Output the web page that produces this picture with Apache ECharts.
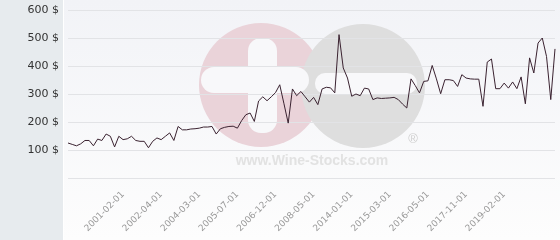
<!DOCTYPE html>
<html>
<head>
<meta charset="utf-8">
<script src="https://cdn.jsdelivr.net/npm/echarts@6/dist/echarts.min.js"></script>
<style>
html,body{margin:0;padding:0;background:#fff;}
#chart{width:560px;height:240px;}
</style>
</head>
<body>
<div id="chart"></div>
<script>
const prices = [
  125, 120, 115, 122, 134, 134, 115, 139, 134, 157,
  149, 111, 149, 137, 140, 149, 134, 131, 131, 108,
  131, 143, 137, 149, 161, 134, 184, 172, 172, 175,
  176, 178, 182, 182, 184, 157, 176, 181, 184, 185,
  178, 205, 226, 232, 202, 275, 290, 276, 290, 305,
  333, 265, 196, 318, 294, 309, 290, 271, 288, 262,
  318, 324, 322, 304, 512, 393, 357, 292, 300, 294,
  321, 318, 280, 286, 284, 285, 286, 288, 280, 264,
  250, 354, 330, 304, 345, 347, 402, 354, 301, 351,
  351, 348, 327, 369, 357, 354, 353, 353, 256, 414,
  425, 319, 319, 339, 321, 343, 319, 361, 265, 429,
  375, 482, 500, 434, 280, 461
];
// Tick labels shown on the category axis and the observation they sit on
const tickLabels = ['2001-02-01','2002-04-01','2004-03-01','2005-07-01','2006-12-01','2008-05-01','2014-01-01','2015-03-01','2016-05-01','2017-11-01','2019-02-01'];
const tickIndex  = [13, 22, 31, 40, 49, 58, 67, 76, 85, 94, 103];
const yTicks = [0, 100, 200, 300, 400, 500, 600];

const labelAt = {};
tickIndex.forEach((idx, k) => { labelAt[idx] = tickLabels[k]; });
const categories = prices.map((_, i) => labelAt[i] || ('#' + i));

const chart = echarts.init(document.getElementById('chart'), null, {renderer: 'canvas'});
chart.setOption({
  animation: false,
  backgroundColor: new echarts.graphic.LinearGradient(0, 0, 0, 1, [
    {offset: 0, color: '#f2f3f7'}, {offset: 1, color: '#fdfdfd'}
  ]),
  graphic: [
    {type: 'rect', z: -20, shape: {x: 0, y: 0, width: 63, height: 240}, style: {fill: '#e7ebee'}},
    {type: 'rect', z: -20, shape: {x: 63, y: 0, width: 1, height: 240}, style: {fill: '#ffffff'}},
    {type: 'circle', z: -10, shape: {cx: 261, cy: 85, r: 62}, style: {fill: '#ead3d9'}},
    {type: 'circle', z: -9, shape: {cx: 363, cy: 86, r: 62}, style: {fill: '#dedede'}},
    {type: 'rect', z: -8, shape: {x: 201, y: 67, width: 108, height: 26, r: 13}, style: {fill: '#f8f8fa'}},
    {type: 'rect', z: -8, shape: {x: 248, y: 38, width: 29, height: 95, r: 13}, style: {fill: '#f8f8fa'}},
    {type: 'rect', z: -8, shape: {x: 315, y: 73, width: 102, height: 21, r: 10}, style: {fill: '#f8f8fa'}},
    {type: 'text', z: -8, style: {x: 413, y: 139, text: '®', fill: '#cfcfcf', font: '13px "Liberation Sans"', align: 'center', verticalAlign: 'middle'}},
    {type: 'text', z: -8, style: {x: 312, y: 161, text: 'www.Wine-Stocks.com', fill: '#e2e2e2', font: 'bold 14px "Liberation Sans"', align: 'center', verticalAlign: 'middle'}}
  ],
  grid: {left: 68, right: 5, top: 10, bottom: 62, containLabel: false},
  xAxis: {
    type: 'category',
    data: categories,
    boundaryGap: false,
    axisLine: {show: false},
    axisTick: {show: false},
    splitLine: {show: false},
    axisLabel: {
      interval: (i) => labelAt[i] !== undefined,
      formatter: (v, i) => labelAt[i] || '',
      rotate: 45,
      margin: 15,
      color: '#999999',
      fontFamily: 'DejaVu Sans',
      fontSize: 9
    }
  },
  yAxis: {
    type: 'value',
    min: yTicks[0],
    max: yTicks[yTicks.length - 1],
    interval: 100,
    axisLine: {show: false},
    axisTick: {show: false},
    splitLine: {show: true, lineStyle: {color: '#e2e3e6', width: 1}},
    axisLabel: {
      formatter: (v) => v === 0 ? '' : v + ' $',
      color: '#333',
      fontFamily: 'DejaVu Sans',
      fontSize: 11,
      margin: 9
    }
  },
  series: [{
    type: 'line',
    data: prices,
    symbol: 'none',
    lineStyle: {color: '#3a2230', width: 1},
    z: 5
  }]
});
</script>
</body>
</html>
